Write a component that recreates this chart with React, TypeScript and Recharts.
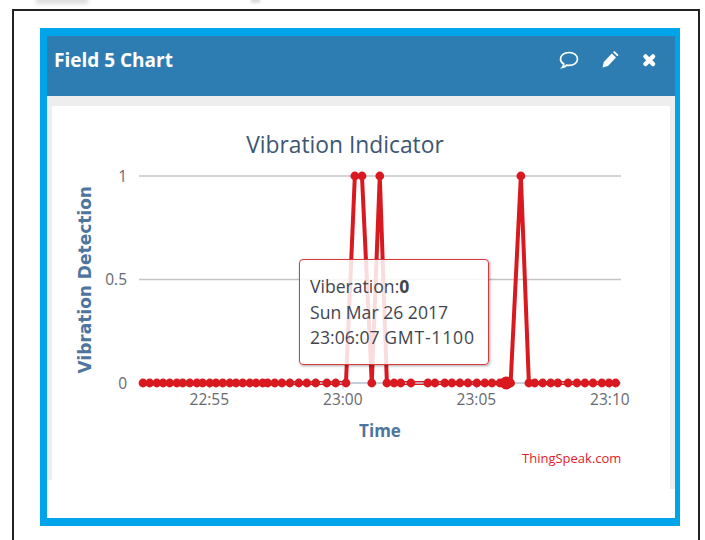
import { LineChart, Line, XAxis, YAxis, CartesianGrid, Tooltip } from "recharts";

// seconds relative to 23:00:00
const seconds = [
  -449, -434, -418, -404, -389, -373, -360, -344, -328, -315, -299, -285, -270, -254, -240,
  -225, -209, -195, -180, -169, -153, -137, -119, -99, -81, -61, -36, -16, 7,
  27, 43, 65, 83, 99, 115, 130, 153, 191, 207, 229, 245, 263, 281, 301, 319, 335, 353, 367, 377,
  400, 418, 431, 449, 467, 483, 506, 526, 544, 562, 582, 598, 613,
];
const vibration = [
  0, 0, 0, 0, 0, 0, 0, 0, 0, 0, 0, 0, 0, 0, 0,
  0, 0, 0, 0, 0, 0, 0, 0, 0, 0, 0, 0, 0, 0,
  1, 1, 0, 1, 0, 0, 0, 0, 0, 0, 0, 0, 0, 0, 0, 0, 0, 0, 0, 0,
  1, 0, 0, 0, 0, 0, 0, 0, 0, 0, 0, 0, 0,
];
const xTicks = [-300, 0, 300, 600];
const xTickLabels = ["22:55", "23:00", "23:05", "23:10"];
const yTicks = [0, 0.5, 1];
const hoveredIndex = 47;

const data = seconds.map((t, i) => ({ t, vibration: vibration[i] }));

const SANS = '"Open Sans", "Noto Sans", sans-serif';
const RED = "#d81a20";

function HoverBox() {
  return (
    <div
      style={{
        width: 190,
        height: 106,
        boxSizing: "border-box",
        padding: "14px 0 0 10px",
        background: "rgba(255,255,255,0.85)",
        border: "1.5px solid #d93a3f",
        borderRadius: 4,
        boxShadow: "1px 1px 3px rgba(0,0,0,0.35)",
        color: "#3f4650",
        fontFamily: SANS,
        fontSize: 17.6,
        lineHeight: "25.5px",
        whiteSpace: "nowrap",
      }}
    >
      <div>
        Viberation:<b>0</b>
      </div>
      <div>Sun Mar 26 2017</div>
      <div>
        23:06:07 <span style={{ letterSpacing: 0.8 }}>GMT-1100</span>
      </div>
    </div>
  );
}

function box(left: number, top: number, width: number, height: number, background: string) {
  return <div style={{ position: "absolute", left, top, width, height, background }} />;
}

function HeaderIcons() {
  return (
    <svg style={{ position: "absolute", left: 555, top: 48 }} width={110} height={24}>
      <path
        d="M14 4.500c-5 0-8.500 2.800-8.500 6.500 0 2.200 1.300 4 3.300 5.100-.1 1.500-.8 2.600-1.500 3.400 1.800-.3 3.300-1.200 4.400-2.400.9.200 1.800.3 2.300.3 5 0 8.500-2.800 8.500-6.400S19 4.500 14 4.500z"
        fill="none"
        stroke="#fff"
        strokeWidth={1.7}
      />
      <path d="M47.500 19.500l1.300-5.500 8-8.500 4.200 4-8 8.500z M58 4.300l1.400-1.400 4.200 4-1.400 1.400z" fill="#fff" />
      <path d="M90.500 8.500l7.500 7.500M98 8.500l-7.500 7.500" stroke="#fff" strokeWidth={4.500} strokeLinecap="round" />
    </svg>
  );
}

export default function App() {
  return (
    <div
      style={{
        position: "absolute",
        left: 0,
        top: 0,
        width: 705,
        height: 540,
        overflow: "hidden",
        background: "#fff",
      }}
    >
      <div style={{ position: "absolute", left: 36, top: -4, width: 52, height: 8, background: "#ddd", filter: "blur(2px)" }} />
      <div style={{ position: "absolute", left: 251, top: -3, width: 9, height: 6, background: "#ddd", filter: "blur(1px)" }} />

      <div style={{ position: "absolute", left: 12, top: 9, width: 684, height: 560, border: "2px solid #222" }} />
      {box(40, 28, 640, 498, "#00a4e8")}
      {box(47, 36, 628, 482, "#fff")}
      {box(47, 36, 628, 60, "#2e7db2")}
      {box(47, 96, 628, 10, "#eeeeee")}
      {box(47, 96, 5, 384, "#eeeeee")}
      {box(670, 96, 5, 393, "#eeeeee")}

      <div
        style={{
          position: "absolute",
          left: 54,
          top: 46,
          color: "#fff",
          fontFamily: SANS,
          fontWeight: 700,
          fontSize: 19,
          lineHeight: "28px",
          whiteSpace: "nowrap",
        }}
      >
        Field 5 Chart
      </div>
      <HeaderIcons />

      <div
        style={{
          position: "absolute",
          left: 52,
          top: 129,
          width: 586,
          textAlign: "center",
          color: "#3d5673",
          fontFamily: SANS,
          fontSize: 22.8,
          lineHeight: "32px",
          whiteSpace: "nowrap",
        }}
      >
        Vibration Indicator
      </div>

      <div style={{ position: "absolute", left: 52, top: 106 }}>
        <LineChart
          width={618}
          height={384}
          data={data}
          margin={{ top: 70, right: 49, bottom: 77, left: 47 }}
        >
          <CartesianGrid horizontal vertical={false} stroke="#c4c4c4" strokeWidth={1.5} />
          <XAxis
            dataKey="t"
            type="number"
            domain={[-458, 625]}
            ticks={xTicks}
            height={30}
            tickFormatter={(v: number) => xTickLabels[xTicks.indexOf(v)]}
            tick={{ fill: "#666a70", fontSize: 15.5, fontFamily: SANS }}
            tickLine={{ stroke: "#c0d0e0" }}
            tickSize={6}
            tickMargin={5}
            axisLine={{ stroke: "#c0d0e0", strokeWidth: 1.5 }}
            label={{
              value: "Time",
              position: "bottom",
              offset: 12,
              fill: "#4d759e",
              fontSize: 17,
              fontWeight: 700,
              fontFamily: SANS,
            }}
          />
          <YAxis
            type="number"
            domain={[0, 1]}
            ticks={yTicks}
            width={40}
            axisLine={false}
            tickLine={false}
            tickMargin={6}
            tick={{ fill: "#666a70", fontSize: 15.5, fontFamily: SANS }}
            label={{
              value: "Vibration Detection",
              angle: -90,
              position: "insideLeft",
              offset: -14,
              dy: 94,
              fill: "#4d759e",
              fontSize: 17,
              fontWeight: 700,
              fontFamily: '"DejaVu Sans", sans-serif',
            }}
          />
          <Tooltip
            active
            defaultIndex={hoveredIndex}
            cursor={false}
            position={{ x: 247, y: 153 }}
            content={<HoverBox />}
            isAnimationActive={false}
          />
          <Line
            type="linear"
            dataKey="vibration"
            stroke={RED}
            strokeWidth={4}
            dot={{ r: 4.4, fill: RED, stroke: RED, strokeWidth: 0 }}
            activeDot={{ r: 6.5, fill: RED, stroke: RED, strokeWidth: 0 }}
            isAnimationActive={false}
          />
        </LineChart>
      </div>

      <div
        style={{
          position: "absolute",
          left: 522,
          top: 449,
          color: "#e3202a",
          fontFamily: SANS,
          fontSize: 13,
          lineHeight: "18px",
          whiteSpace: "nowrap",
        }}
      >
        ThingSpeak.com
      </div>
    </div>
  );
}
